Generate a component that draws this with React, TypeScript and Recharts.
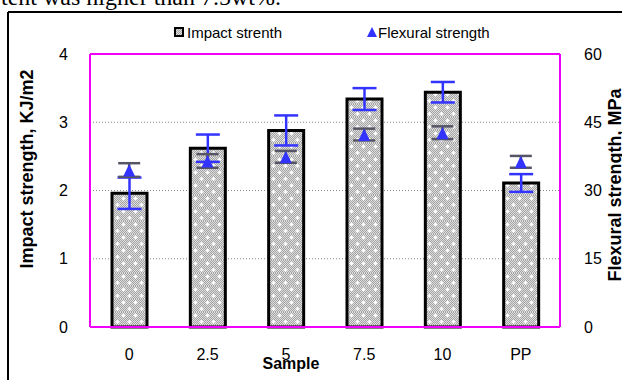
import { ComposedChart, Bar, Scatter, ErrorBar, XAxis, YAxis, CartesianGrid, ReferenceLine } from 'recharts';

const samples = ['0', '2.5', '5', '7.5', '10', 'PP'];
const impactStrength = [1.96, 2.62, 2.88, 3.34, 3.44, 2.11];
const impactError = [0.23, 0.2, 0.22, 0.16, 0.15, 0.13];
const flexuralStrength = [34.5, 36.5, 37.4, 42.3, 42.7, 36.3];
const flexuralError = [1.5, 1.5, 1.3, 1.3, 1.4, 1.3];
const impactTicks = [0, 1, 2, 3, 4];
const flexuralTicks = [0, 15, 30, 45, 60];

const data = samples.map((sample, i) => ({
  sample,
  impact: impactStrength[i],
  impactErr: impactError[i],
  flexural: flexuralStrength[i],
  flexuralErr: flexuralError[i],
}));

const FONT = '"Liberation Sans", Arial, sans-serif';
const MAGENTA = '#f000f8';
const BLUE = '#3333ff';

function Triangle(props: any) {
  const { cx, cy } = props;
  return <polygon points={`${cx},${cy - 6} ${cx - 6},${cy + 6.5} ${cx + 6},${cy + 6.5}`} fill={BLUE} />;
}

export default function App() {
  return (
    <div style={{ position: 'absolute', left: 0, top: 0, width: 622, height: 380, overflow: 'hidden', background: '#fff', fontFamily: FONT }}>
      <svg width={622} height={380} style={{ position: 'absolute', left: 0, top: 0 }}>
        <defs>
          <pattern id="checker" width="2" height="2" patternUnits="userSpaceOnUse">
            <rect width="2" height="2" fill="#a4a4a4" />
            <rect width="1" height="1" fill="#dedede" />
            <rect x="1" y="1" width="1" height="1" fill="#dedede" />
          </pattern>
          <pattern id="barFill" width="12" height="13" patternUnits="userSpaceOnUse">
            <rect width="12" height="13" fill="url(#checker)" />
            <path d="M1.5 3.5h4M3.5 1.5v4M7.5 10h4M9.5 8v4" stroke="#fff" strokeWidth="1.4" />
          </pattern>
        </defs>
        <text x={1} y={5} fontFamily='"Liberation Serif", serif' fontSize={24}>tent was higher than 7.5wt%.</text>
        <line x1={8} y1={12} x2={8} y2={380} stroke="#000" strokeWidth={2} />
        <line x1={8} y1={12} x2={622} y2={12} stroke="#000" strokeWidth={2} />
        {/* legend */}
        <rect x={175} y={28} width={8} height={8} fill="url(#checker)" stroke="#000" strokeWidth={2} />
        <text x={187} y={37.5} fontSize={15} fontFamily={FONT}>Impact strenth</text>
        <polygon points="372,27 367,37 377,37" fill={BLUE} />
        <text x={378} y={37.5} fontSize={15} fontFamily={FONT}>Flexural strength</text>
      </svg>
      <div style={{ position: 'absolute', left: 0, top: 0 }}>
        <ComposedChart width={622} height={380} data={data} margin={{ top: 54, right: 0, bottom: 0, left: 0 }}>
          <CartesianGrid yAxisId="left" vertical={false} stroke="#888" strokeDasharray="1 2" />
          <XAxis
            dataKey="sample"
            height={53}
            tickLine={false}
            tickSize={0}
            tickMargin={22}
            axisLine={{ stroke: MAGENTA, strokeWidth: 2 }}
            tick={{ fontSize: 16, fill: '#000', fontFamily: FONT }}
            label={{
              content: () => (
                <text x={291} y={369} textAnchor="middle" fontSize={16} fontWeight="bold" fontFamily={FONT}>Sample</text>
              ),
            }}
          />
          <YAxis
            yAxisId="left"
            width={90}
            domain={[0, 4]}
            ticks={impactTicks}
            tickLine={false}
            tickSize={0}
            tickMargin={22}
            axisLine={{ stroke: MAGENTA, strokeWidth: 2 }}
            tick={{ fontSize: 16, fill: '#000', fontFamily: FONT }}
            label={{
              content: () => (
                <text x={33} y={169} transform="rotate(-90 33 169)" textAnchor="middle" fontSize={18} fontWeight="bold" fontFamily={FONT}>
                  Impact strength, KJ/m2
                </text>
              ),
            }}
          />
          <YAxis
            yAxisId="right"
            orientation="right"
            width={62}
            domain={[0, 60]}
            ticks={flexuralTicks}
            tickLine={false}
            tickSize={0}
            tickMargin={24}
            axisLine={{ stroke: MAGENTA, strokeWidth: 2 }}
            tick={{ fontSize: 16, fill: '#000', fontFamily: FONT }}
            label={{
              content: () => (
                <text x={621} y={185} transform="rotate(-90 621 185)" textAnchor="middle" fontSize={18} fontWeight="bold" fontFamily={FONT}>
                  Flexural strength, MPa
                </text>
              ),
            }}
          />
          <ReferenceLine yAxisId="left" y={4} stroke={MAGENTA} strokeWidth={2} />
          <Bar yAxisId="left" dataKey="impact" barSize={35} fill="url(#barFill)" stroke="#000" strokeWidth={3} isAnimationActive={false}>
            <ErrorBar dataKey="impactErr" width={12} stroke={BLUE} strokeWidth={2.5} />
          </Bar>
          <Scatter yAxisId="right" dataKey="flexural" shape={<Triangle />} isAnimationActive={false}>
            <ErrorBar dataKey="flexuralErr" direction="y" width={11} stroke="#555566" strokeWidth={2.5} />
          </Scatter>
        </ComposedChart>
      </div>
    </div>
  );
}
